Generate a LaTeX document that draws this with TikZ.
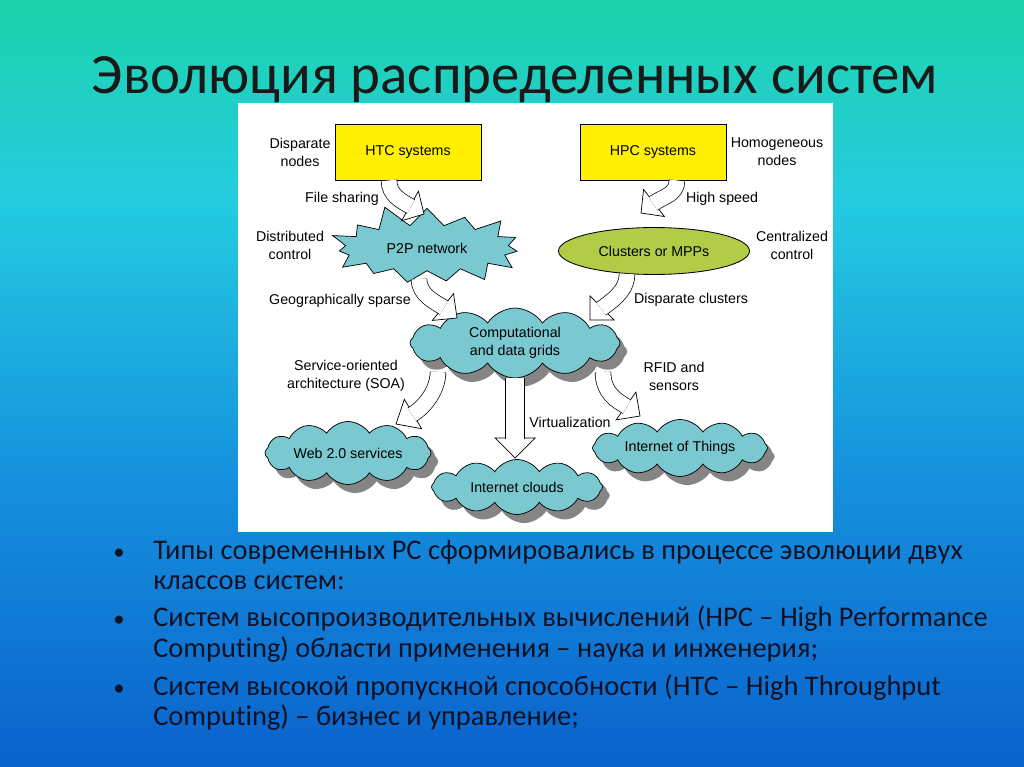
\documentclass[tikz,border=0pt]{standalone}
\usepackage{fontspec}
\setmainfont{Carlito}[Ligatures=NoCommon]
\newfontfamily\diagfont{Liberation Sans}
\usetikzlibrary{shapes.symbols,shapes.geometric,shadows,calc}

\definecolor{bgtop}{RGB}{30,211,172}
\definecolor{bgcyan}{RGB}{36,204,224}
\definecolor{bgmid}{RGB}{22,146,222}
\definecolor{bgbot}{RGB}{10,98,204}
\definecolor{sysyellow}{RGB}{255,240,0}
\definecolor{cloudteal}{RGB}{122,200,208}
\definecolor{mppgreen}{RGB}{178,204,72}
\definecolor{slidetext}{RGB}{14,18,36}

\tikzset{
  slidetitle/.style={anchor=base, text=black!90, font=\fontsize{40}{48}\selectfont, inner sep=0pt},
  bullettext/.style={anchor=base west, text=slidetext, font=\fontsize{20}{24}\selectfont, inner sep=0pt},
  bulletdot/.style={anchor=base, text=slidetext, font=\fontsize{16}{24}\selectfont, inner sep=0pt},
  sysbox/.style={draw, fill=sysyellow, line width=0.6pt, minimum width=102.7pt, minimum height=39.4pt,
    font=\diagfont\fontsize{10}{12.7}\selectfont},
  burst/.style={starburst, starburst points=15, starburst point height=16pt, random starburst=11,
    draw, fill=cloudteal, line width=0.5pt, minimum width=147pt, minimum height=64pt,
    font=\diagfont\fontsize{10}{12.7}\selectfont},
  mppoval/.style={ellipse, draw, fill=mppgreen, line width=0.6pt, minimum width=134.3pt, minimum height=33pt,
    font=\diagfont\fontsize{10}{12.7}\selectfont},
  cloudnode/.style={cloud, cloud puffs=12, cloud puff arc=115, cloud ignores aspect, draw, fill=cloudteal,
    line width=0.5pt, align=center, inner sep=1pt,
    drop shadow={shadow xshift=5pt, shadow yshift=-6pt, fill=black!48, opacity=1},
    font=\diagfont\fontsize{10}{12.7}\selectfont},
  lbl/.style={align=center, inner sep=0pt, font=\diagfont\fontsize{10}{12.7}\selectfont},
  arrowbody/.style={draw=black, line width=0.5pt, double=white, double distance=10.5pt},
  arrowtip/.style={draw=black, fill=white, line width=0.5pt, line join=miter},
}

% curved block arrow: start, control 1, control 2, head base, head tip
\newcommand{\bendarrow}[6][12pt]{%
  \draw[arrowtip] ($(#5)!#1!90:(#6)$) -- (#6) -- ($(#5)!#1!-90:(#6)$) -- cycle;
  \draw[arrowbody] (#2) .. controls (#3) and (#4) .. ($(#5)!0.8pt!(#6)$);
}

\begin{document}
\begin{tikzpicture}[x=0.703125pt, y=-0.703125pt]
\useasboundingbox (0,0) rectangle (1024,767);

% background
\fill[top color=bgtop, bottom color=bgcyan] (0,0) rectangle (1024,201);
\fill[top color=bgcyan, bottom color=bgmid] (0,200) rectangle (1024,471);
\fill[top color=bgmid, bottom color=bgbot] (0,470) rectangle (1024,767);

\node[slidetitle] (title) at (515,94) {Эволюция распределенных систем};

% diagram
\fill[white] (238,103) rectangle (833,532);

\node[sysbox] (htc) at (408,152) {HTC systems};
\node[sysbox] (hpc) at (653,152) {HPC systems};
\node[burst] (p2p) at (427,248) {P2P network};
\node[mppoval] (mpp) at (654,251) {Clusters or MPPs};
\node[cloudnode, minimum width=147.7pt, minimum height=49.2pt] (grids) at (515,343) {Computational\\and data grids};
\node[cloudnode, minimum width=116.7pt, minimum height=44.3pt] (web) at (348,453) {Web 2.0 services};
\node[cloudnode, minimum width=120.2pt, minimum height=38.7pt] (inet) at (517,487) {Internet clouds};
\node[cloudnode, minimum width=123pt, minimum height=40.1pt] (iot) at (680,448) {Internet of Things};

\node[lbl] (lnodesl) at (300,152) {Disparate\\nodes};
\node[lbl] (lnodesr) at (777,152) {Homogeneous\\nodes};
\node[lbl] (lfile) at (342,199) {File sharing};
\node[lbl] (lspeed) at (722,199) {High speed};
\node[lbl] (ldistr) at (290,245) {Distributed\\control};
\node[lbl] (lcentr) at (792,245) {Centralized\\control};
\node[lbl] (lgeo) at (340,301) {Geographically sparse};
\node[lbl] (lclust) at (691,300) {Disparate clusters};
\node[lbl] (lsoa) at (346,376) {Service-oriented\\architecture (SOA)};
\node[lbl] (lrfid) at (674,376) {RFID and\\sensors};
\node[lbl] (lvirt) at (570,422) {Virtualization};

\coordinate (a1c1) at (389,195);
\coordinate (a1c2) at (401,201);
\coordinate (a1b) at (410,206);
\coordinate (a1t) at (424,214);
\bendarrow{$(htc.south)+(-19,0)$}{a1c1}{a1c2}{a1b}{a1t}

\coordinate (a2c1) at (677,195);
\coordinate (a2c2) at (662,197);
\coordinate (a2b) at (654,203);
\coordinate (a2t) at (641,213);
\bendarrow{$(hpc.south)+(24,0)$}{a2c1}{a2c2}{a2b}{a2t}

\coordinate (a3c1) at (419,295);
\coordinate (a3c2) at (435,302);
\coordinate (a3b) at (443,307);
\coordinate (a3t) at (457,318);
\bendarrow{$(p2p.center)+(-8,31)$}{a3c1}{a3c2}{a3b}{a3t}

\coordinate (a4c1) at (627,292);
\coordinate (a4c2) at (610,302);
\coordinate (a4b) at (602,308);
\coordinate (a4t) at (590,320);
\bendarrow{$(mpp.south)+(-27,-1)$}{a4c1}{a4c2}{a4b}{a4t}

\coordinate (a5c1) at (438,392);
\coordinate (a5c2) at (422,409);
\coordinate (a5b) at (413,414);
\coordinate (a5t) at (396,424);
\bendarrow{$(grids.center)+(-77,29)$}{a5c1}{a5c2}{a5b}{a5t}

\coordinate (a7c1) at (603,393);
\coordinate (a7c2) at (617,401);
\coordinate (a7b) at (626,406);
\coordinate (a7t) at (640,416);
\bendarrow{$(grids.center)+(88,29)$}{a7c1}{a7c2}{a7b}{a7t}

\coordinate (vbase) at (515,438);
\coordinate (vtip) at (515,458);
\draw[arrowtip] ($(vbase)+(-20,0)$) -- (vtip) -- ($(vbase)+(20,0)$) -- cycle;
\draw[arrowbody, double distance=13pt] (grids.south) -- ($(vbase)+(0,1)$);

% bullets
\node[bulletdot] (b1) at (119,559) {•};
\node[bullettext] (t1a) at (153,559) {Типы современных РС сформировались в процессе эволюции двух};
\node[bullettext] (t1b) at (153,589) {классов систем:};
\node[bulletdot] (b2) at (119,626) {•};
\node[bullettext] (t2a) at (153,626) {Систем высопроизводительных вычислений (HPC – High Performance};
\node[bullettext] (t2b) at (153,657) {Computing) области применения – наука и инженерия;};
\node[bulletdot] (b3) at (119,695) {•};
\node[bullettext] (t3a) at (153,695) {Систем высокой пропускной способности (HTC – High Throughput};
\node[bullettext] (t3b) at (153,725) {Computing) – бизнес и управление;};
\end{tikzpicture}
\end{document}
